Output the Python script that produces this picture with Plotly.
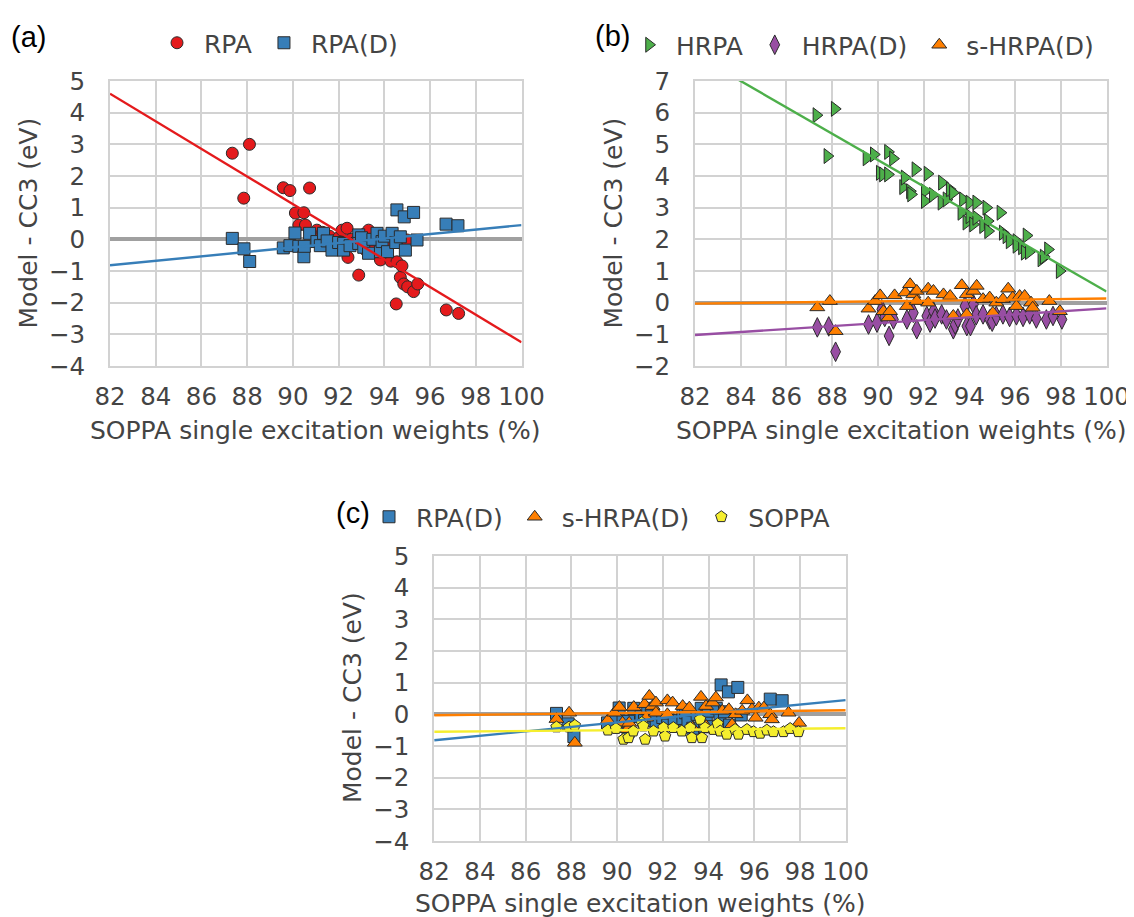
import plotly.graph_objects as go

# ---------------- data ----------------
rpa_x = [87.35, 87.85, 88.10, 89.58, 89.87, 90.11, 90.26, 90.48, 90.55, 90.73,
         91.05, 91.30, 91.60, 91.80, 92.00, 92.15, 92.37, 92.41, 92.55, 92.70,
         92.88, 93.10, 93.20, 93.31, 93.50, 93.83, 93.90, 94.10, 94.29, 94.52,
         94.55, 94.70, 94.77, 94.85, 95.00, 95.02, 95.28, 95.46, 96.71, 97.25]
rpa_y = [2.72, 1.30, 3.00, 1.63, 1.54, 0.83, 0.45, 0.84, 0.45, 1.62,
         0.29, 0.22, 0.10, -0.15, 0.05, 0.29, 0.35, -0.57, 0.00, -0.10,
         -1.13, 0.15, -0.35, 0.29, -0.20, -0.65, -0.40, -0.10, -0.69, -2.04,
         -0.71, -1.20, -0.84, -1.41, -0.02, -1.50, -1.65, -1.41, -2.23, -2.34]

rpad_x = [87.35, 87.86, 88.11, 89.58, 89.87, 90.09, 90.26, 90.48, 90.50, 90.73,
          91.05, 91.20, 91.34, 91.50, 91.71, 92.00, 92.22, 92.22, 92.50, 92.88,
          92.88, 93.00, 93.10, 93.31, 93.50, 93.68, 93.83, 93.90, 94.00, 94.14,
          94.34, 94.50, 94.55, 94.70, 94.87, 94.92, 95.28, 95.43, 96.70, 97.22]
rpad_y = [0.03, -0.30, -0.70, -0.27, -0.20, 0.20, -0.22, -0.55, -0.22, 0.19,
          -0.07, -0.20, 0.19, -0.05, -0.34, -0.10, -0.13, -0.34, -0.20, 0.14,
          -0.13, 0.05, -0.25, -0.44, 0.00, 0.19, -0.39, -0.07, 0.10, -0.39,
          0.19, -0.10, 0.93, 0.08, 0.71, -0.34, 0.85, -0.02, 0.48, 0.43]

hrpa_x = [87.31, 87.79, 88.11, 89.50, 89.82, 90.08, 90.22, 90.44, 90.44, 90.66,
          91.10, 91.17, 91.40, 91.45, 91.64, 92.05, 92.05, 92.17, 92.40, 92.78,
          92.80, 93.00, 93.14, 93.28, 93.65, 93.72, 93.87, 94.00, 94.00, 94.16,
          94.30, 94.30, 94.60, 94.74, 94.80, 94.82, 95.36, 95.46, 95.62, 95.76,
          96.06, 96.06, 96.30, 96.42, 96.50, 96.60, 97.15, 97.25, 97.44, 97.95]
hrpa_y = [5.92, 4.63, 6.12, 4.56, 4.68, 4.10, 4.05, 4.76, 4.05, 4.55,
          3.65, 3.95, 3.52, 3.42, 4.21, 3.52, 3.21, 4.07, 3.40, 3.16,
          3.79, 3.26, 3.58, 3.47, 2.84, 3.26, 2.53, 3.16, 2.73, 2.47,
          3.16, 2.68, 2.42, 3.00, 2.58, 2.26, 2.84, 2.21, 2.10, 1.94,
          1.94, 1.80, 1.75, 1.58, 2.12, 1.60, 1.37, 1.45, 1.68, 1.00]

hrpad_x = [87.35, 87.85, 88.15, 89.59, 89.96, 90.17, 90.30, 90.49, 90.68, 91.27,
           91.55, 91.70, 92.14, 92.28, 92.43, 92.50, 92.79, 93.00, 93.30, 93.38,
           93.50, 93.81, 93.89, 94.05, 94.18, 94.30, 94.60, 94.89, 95.00, 95.18,
           95.47, 95.76, 96.06, 96.35, 96.64, 96.93, 97.37, 97.66, 98.05]
hrpad_y = [-0.78, -0.75, -1.55, -0.69, -0.63, -0.21, -0.45, -1.05, -0.53, -0.53,
           -0.32, -0.84, -0.42, -0.63, -0.27, -0.50, -0.37, -0.53, -0.84, -0.69,
           -0.50, -0.11, -0.74, -0.74, -0.05, -0.40, -0.37, -0.53, -0.60, -0.42,
           -0.37, -0.45, -0.40, -0.45, -0.37, -0.50, -0.53, -0.42, -0.53]

shrpad_x = [87.35, 87.90, 88.15, 89.59, 89.88, 90.10, 90.24, 90.46, 90.53, 90.73,
            91.20, 91.27, 91.41, 91.55, 91.70, 91.70, 92.20, 92.20, 92.43, 92.87,
            93.16, 93.30, 93.67, 93.89, 93.89, 94.18, 94.32, 94.60, 94.89, 95.03,
            95.18, 95.47, 95.70, 95.90, 96.06, 96.20, 96.42, 96.70, 96.77, 97.50, 97.96]
shrpad_y = [-0.15, 0.05, -0.90, -0.19, 0.05, 0.23, -0.27, -0.47, -0.27, 0.23,
            0.32, -0.11, 0.58, 0.26, 0.37, 0.05, 0.44, 0.00, 0.37, 0.26,
            0.21, -0.42, 0.55, 0.26, -0.37, 0.37, 0.53, 0.11, 0.16, -0.32,
            0.00, 0.11, 0.44, 0.16, -0.11, 0.21, 0.21, 0.00, -0.16, 0.05, -0.27]

soppa_x = [87.35, 87.90, 88.15, 89.60, 89.95, 90.28, 90.50, 90.71, 91.08, 91.15,
           91.23, 91.59, 92.03, 92.10, 92.46, 92.83, 93.20, 93.27, 93.63, 93.71,
           93.85, 94.21, 94.40, 94.51, 94.80, 95.16, 95.31, 95.68, 95.97, 96.26,
           96.55, 96.84, 97.28, 97.57, 97.93]
soppa_y = [-0.40, -0.40, -0.35, -0.50, -0.45, -0.79, -0.74, -0.53, -0.26, -0.37,
           -0.79, -0.53, -0.42, -0.69, -0.42, -0.53, -0.42, -0.74, -0.16, -0.74,
           -0.42, -0.48, -0.30, -0.53, -0.63, -0.48, -0.63, -0.48, -0.55, -0.60,
           -0.50, -0.55, -0.55, -0.45, -0.55]

# regression lines: values read at x = 82 and x = 100
fit_x = [82, 100]
fit_rpa = [4.60, -3.25]
fit_rpad = [-0.82, 0.45]
fit_hrpa = [7.83, 0.35]
fit_hrpad = [-1.02, -0.18]
fit_shrpad = [-0.03, 0.13]
fit_soppa = [-0.55, -0.44]

x_ticks = [82, 84, 86, 88, 90, 92, 94, 96, 98, 100]

# ---------------- styling ----------------
RED, BLUE, GREEN = '#e41a1c', '#377eb8', '#4daf4a'
PURPLE, ORANGE, YELLOW = '#984ea3', '#ff7f00', '#f5ee2e'
EDGE = '#2b2b2b'
FONT = 'DejaVu Sans'
TXT = '#444444'
OFF = 8                       # page body margin of the browser
W, H = 1134 - OFF, 917 - OFF  # figure size so the page fills the window

fig = go.Figure()


def scat(x, y, name, sym, col, size, xa, ya, leg):
    fig.add_trace(go.Scatter(
        x=x, y=y, mode='markers', name=name, xaxis=xa, yaxis=ya, legend=leg,
        marker=dict(symbol=sym, color=col, size=size, line=dict(color=EDGE, width=1))))


def fit(y, col, xa, ya):
    fig.add_trace(go.Scatter(
        x=fit_x, y=y, mode='lines', showlegend=False, xaxis=xa, yaxis=ya,
        line=dict(color=col, width=2.4), hoverinfo='skip'))


# panel (a)
scat(rpa_x, rpa_y, 'RPA', 'circle', RED, 12, 'x', 'y', 'legend')
scat(rpad_x, rpad_y, 'RPA(D)', 'square', BLUE, 12, 'x', 'y', 'legend')
fit(fit_rpa, RED, 'x', 'y')
fit(fit_rpad, BLUE, 'x', 'y')

# panel (b)
scat(hrpa_x, hrpa_y, 'HRPA', 'triangle-right', GREEN, 13, 'x2', 'y2', 'legend2')
scat(hrpad_x, hrpad_y, 'HRPA(D)', 'diamond-tall', PURPLE, 14, 'x2', 'y2', 'legend2')
scat(shrpad_x, shrpad_y, 's-HRPA(D)', 'triangle-up', ORANGE, 13, 'x2', 'y2', 'legend2')
fit(fit_hrpa, GREEN, 'x2', 'y2')
fit(fit_hrpad, PURPLE, 'x2', 'y2')
fit(fit_shrpad, ORANGE, 'x2', 'y2')

# panel (c)
scat(rpad_x, rpad_y, 'RPA(D)', 'square', BLUE, 12, 'x3', 'y3', 'legend3')
scat(shrpad_x, shrpad_y, 's-HRPA(D)', 'triangle-up', ORANGE, 13, 'x3', 'y3', 'legend3')
scat(soppa_x, soppa_y, 'SOPPA', 'pentagon', YELLOW, 12, 'x3', 'y3', 'legend3')
fit(fit_rpad, BLUE, 'x3', 'y3')
fit(fit_shrpad, ORANGE, 'x3', 'y3')
fit(fit_soppa, YELLOW, 'x3', 'y3')

GRID = '#d2d2d2'
TICKFONT = dict(family=FONT, size=24.5, color=TXT)


def xax(dom, anchor):
    return dict(domain=dom, anchor=anchor, range=[82, 100], tickvals=x_ticks,
                showgrid=True, gridcolor=GRID, gridwidth=2, showline=True, linecolor=GRID,
                linewidth=2, mirror=True, zeroline=False, ticks='', automargin=False,
                ticklabelstandoff=8, tickfont=TICKFONT)


def yax(dom, anchor, rng):
    return dict(domain=dom, anchor=anchor, range=rng, dtick=1, tick0=0,
                showgrid=True, gridcolor=GRID, gridwidth=2, showline=True, linecolor=GRID,
                linewidth=2, mirror=True, zeroline=True, zerolinecolor='#a0a0a0',
                zerolinewidth=3.5, ticks='', ticklabelstandoff=18, automargin=False,
                tickfont=TICKFONT)


def px(v):
    return (v - OFF) / W


def py(v):
    return 1 - (v - OFF) / H


top_dom = [py(366), py(81)]
bot_dom = [py(841), py(556)]

legfont = dict(family=FONT, size=25, color=TXT)


def leg(xl, yc):
    return dict(orientation='h', x=px(xl), y=py(yc), xanchor='left', yanchor='middle',
                font=legfont, bgcolor='rgba(0,0,0,0)', borderwidth=0, itemwidth=44,
                traceorder='normal')


annots = []


def txt(s, x, y, size=25, color=TXT, family=FONT, angle=0, xanchor='center'):
    annots.append(dict(text=s, x=px(x), y=py(y), xref='paper', yref='paper',
                       showarrow=False, xanchor=xanchor, yanchor='middle', textangle=angle,
                       font=dict(family=family, size=size, color=color)))


txt('(a)', 9, 37, size=29, color='#000', family='Liberation Sans', xanchor='left')
txt('(b)', 593, 36, size=29, color='#000', family='Liberation Sans', xanchor='left')
txt('(c)', 334, 513, size=29, color='#000', family='Liberation Sans', xanchor='left')
xt = 'SOPPA single excitation weights (%)'
yt = 'Model - CC3 (eV)'
txt(xt, 315.6, 430)
txt(xt, 901, 430)
txt(xt, 640, 903)
txt(yt, 28, 223.5, angle=-90)
txt(yt, 613, 223.5, angle=-90)
txt(yt, 352, 698, angle=-90)

fig.update_layout(
    width=W, height=H, margin=dict(l=0, r=0, t=0, b=0, autoexpand=False),
    paper_bgcolor='white', plot_bgcolor='white',
    xaxis=xax([px(110), px(521.5)], 'y'),
    yaxis=yax(top_dom, 'x', [-4, 5]),
    xaxis2=xax([px(695), px(1106.5)], 'y2'),
    yaxis2=yax(top_dom, 'x2', [-2, 7]),
    xaxis3=xax([px(434.2), px(845.7)], 'y3'),
    yaxis3=yax(bot_dom, 'x3', [-4, 5]),
    legend=leg(150, 43),
    legend2=leg(622, 45),
    legend3=leg(362, 517),
    annotations=annots,
    showlegend=True,
)

fig.write_html('out.html')
